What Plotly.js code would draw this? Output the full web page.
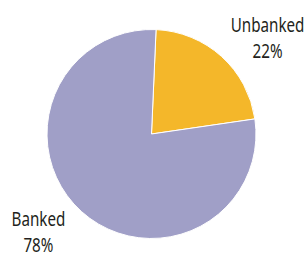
<!DOCTYPE html>
<html><head><meta charset="utf-8">
<script src="https://cdn.plot.ly/plotly-3.0.1.min.js"></script>
<style>html,body{margin:0;padding:0;background:#fff;}#c{width:308px;height:257px;}</style>
</head><body><div id="c"></div>
<script>
const labels = ["Unbanked", "Banked"];
const values = [22, 78];
const colors = ["#F4B72A", "#A09FC7"];

const W = 308, H = 257;
const FONT = {family: "Noto Sans, sans-serif", size: 20, color: "#231F20"};
const labelPos = [{x: 267.5, y: 37.5}, {x: 38.5, y: 231.5}];
const annotations = labels.map((l, i) => ({
  text: l + "<br>" + values[i] + "%",
  x: labelPos[i].x / W, y: 1 - labelPos[i].y / H,
  xref: "paper", yref: "paper", xanchor: "center", yanchor: "middle",
  showarrow: false, align: "center", borderpad: 0, font: FONT
}));

Plotly.newPlot("c", [{
  type: "pie", labels: labels, values: values, sort: false,
  direction: "clockwise", rotation: 2.5,
  marker: {colors: colors, line: {color: "#ffffff", width: 1}},
  textinfo: "none", hoverinfo: "label+percent",
  domain: {x: [47 / W, 256 / W], y: [1 - 238.5 / H, 1 - 29.5 / H]}
}], {
  width: W, height: H, margin: {l: 0, r: 0, t: 0, b: 0},
  showlegend: false, paper_bgcolor: "#fff",
  annotations: annotations
}, {displayModeBar: false, staticPlot: true}).then(function (gd) {
  // condensed look: squeeze annotation text horizontally about its centre
  gd.querySelectorAll(".annotation-text-g text").forEach(function (t) {
    const b = t.getBBox();
    const cx = b.x + b.width / 2;
    t.setAttribute("transform", "translate(" + cx + ",0) scale(0.76,1) translate(" + (-cx) + ",0)");
  });
});
</script></body></html>
